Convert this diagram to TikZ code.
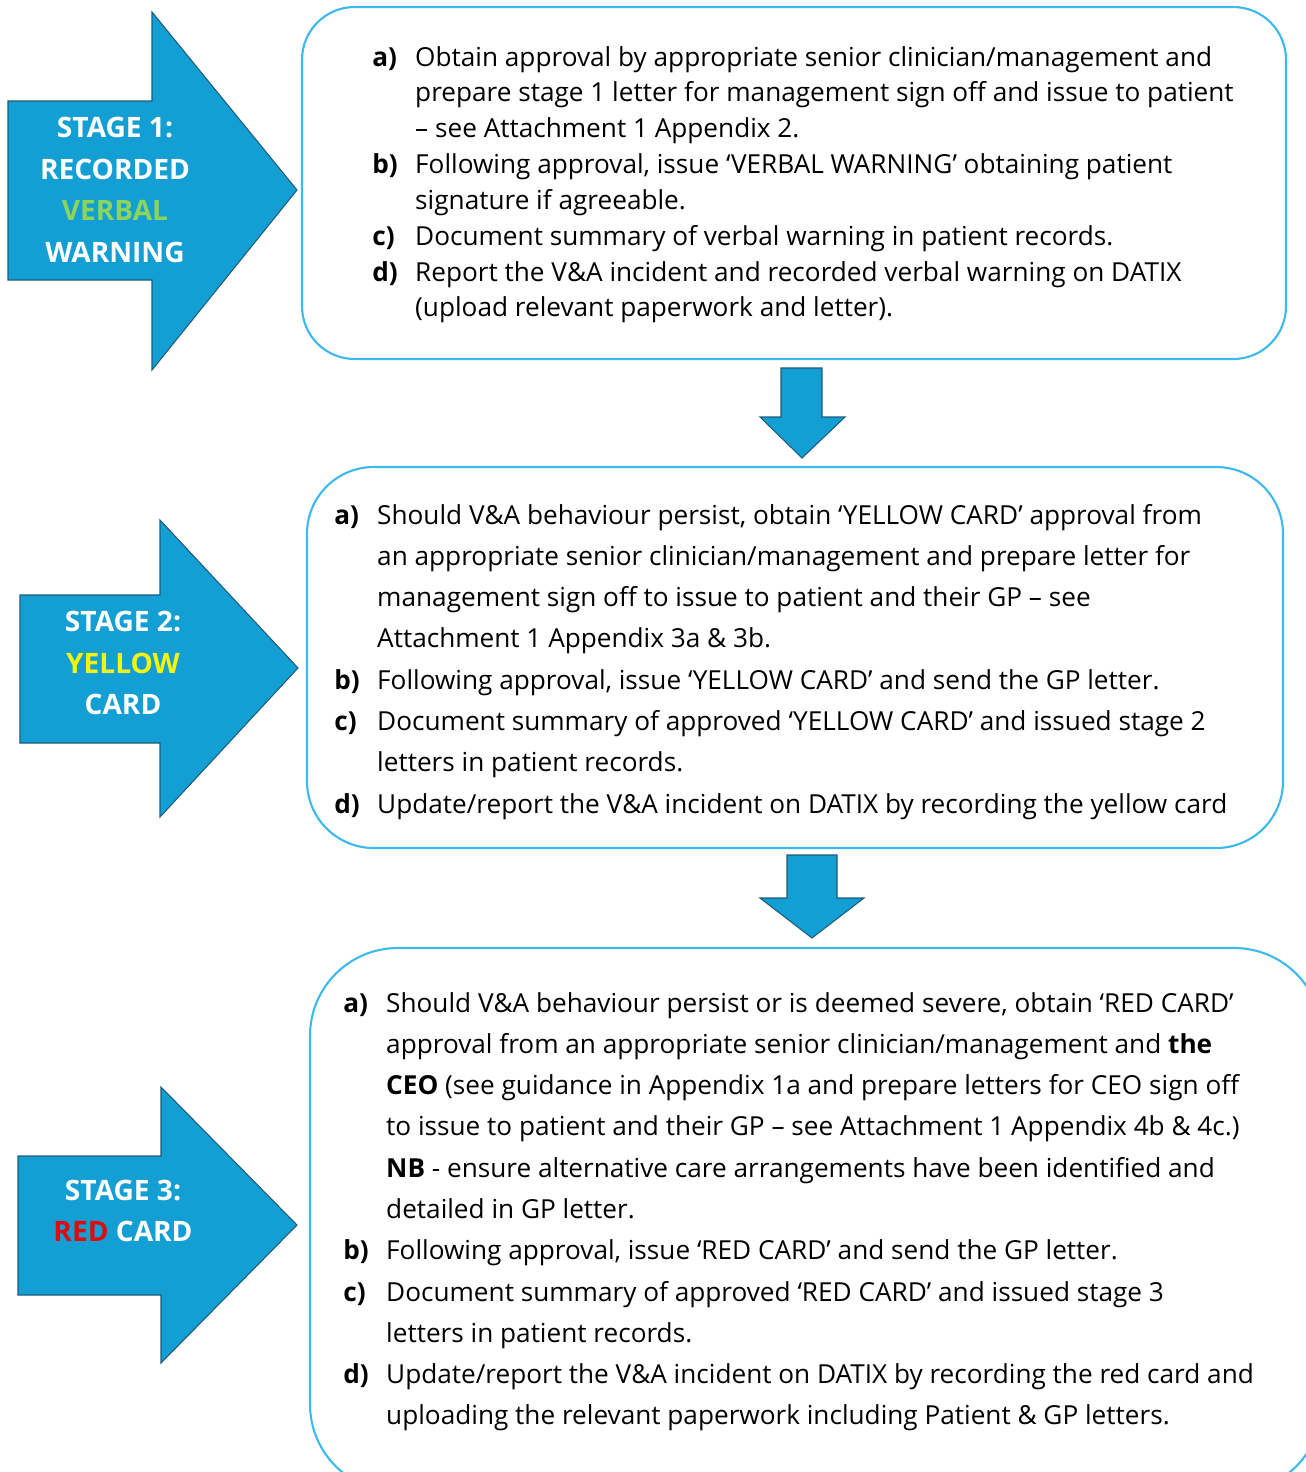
\documentclass[tikz,border=0pt]{standalone}
\usepackage{fontspec}
\setmainfont{Open Sans}
\usetikzlibrary{positioning}
\definecolor{stageblue}{HTML}{139FD4}
\definecolor{stageedge}{HTML}{1D5C7A}
\definecolor{boxline}{HTML}{3CB9EE}
\definecolor{verbalgreen}{HTML}{8BD45E}
\definecolor{cardyellow}{HTML}{F4F40C}
\definecolor{cardred}{HTML}{E00B0B}
\tikzset{
  stagearrow/.style={fill=stageblue, draw=stageedge, line width=0.6pt, line join=miter},
  stepbox/.style={draw=boxline, line width=1.2pt},
  stagetext/.style={text=white, font=\fontsize{16}{23.8}\selectfont\bfseries, align=center, inner sep=0pt},
  listtext/.style={anchor=base west, inner sep=0pt}
}
\begin{document}
\begin{tikzpicture}[x=0.02cm, y=-0.02cm]
  \useasboundingbox (0,0) rectangle (1306,1472);
  \clip (0,0) rectangle (1306,1472);

  % stage 1
  \draw[stagearrow] (8,101) -- (152,101) -- (152,12) -- (297,190) -- (152,370) -- (152,280) -- (8,280) -- cycle;
  \node[stagetext] (stage1) at (115,190) {STAGE 1:\\RECORDED\\\textcolor{verbalgreen}{VERBAL}\\WARNING};
  \draw[stepbox, rounded corners=30pt] (302,7) rectangle (1286,359);
  \node[listtext] (list1) at (372,66) {\fontsize{14.9}{20.4}\selectfont
    \begin{tabular}[t]{@{}p{24.4pt}@{}l@{}}
    \textbf{a)} & Obtain approval by appropriate senior clinician/management and\\
     & prepare stage 1 letter for management sign off and issue to patient\\
     & – see Attachment 1 Appendix 2.\\
    \textbf{b)} & Following approval, issue ‘VERBAL WARNING’ obtaining patient\\
     & signature if agreeable.\\
    \textbf{c)} & Document summary of verbal warning in patient records.\\
    \textbf{d)} & Report the V\&A incident and recorded verbal warning on DATIX\\
     & (upload relevant paperwork and letter).
    \end{tabular}};

  \draw[stagearrow] (781,368) -- (822,368) -- (822,417) -- (845,417) -- (802,458) -- (760,417) -- (781,417) -- cycle;

  % stage 2
  \draw[stagearrow] (20,595) -- (160,595) -- (160,520) -- (298,668) -- (160,817) -- (160,743) -- (20,743) -- cycle;
  \node[stagetext] (stage2) at (123,663) {STAGE 2:\\\textcolor{cardyellow}{YELLOW}\\CARD};
  \draw[stepbox, rounded corners=38pt] (307,467) rectangle (1283,848);
  \node[listtext] (list2) at (334,524) {\fontsize{14.9}{23.5}\selectfont
    \begin{tabular}[t]{@{}p{24.4pt}@{}l@{}}
    \textbf{a)} & Should V\&A behaviour persist, obtain ‘YELLOW CARD’ approval from\\
     & an appropriate senior clinician/management and prepare letter for\\
     & management sign off to issue to patient and their GP – see\\
     & Attachment 1 Appendix 3a \& 3b.\\
    \textbf{b)} & Following approval, issue ‘YELLOW CARD’ and send the GP letter.\\
    \textbf{c)} & Document summary of approved ‘YELLOW CARD’ and issued stage 2\\
     & letters in patient records.\\
    \textbf{d)} & Update/report the V\&A incident on DATIX by recording the yellow card
    \end{tabular}};

  \draw[stagearrow] (787,855) -- (837,855) -- (837,898) -- (864,898) -- (812,938) -- (760,898) -- (787,898) -- cycle;

  % stage 3
  \draw[stagearrow] (18,1156) -- (161,1156) -- (161,1087) -- (297,1225) -- (161,1363) -- (161,1295) -- (18,1295) -- cycle;
  \node[stagetext] (stage3) at (123,1211) {STAGE 3:\\\textcolor{cardred}{RED} CARD};
  \draw[stepbox, rounded corners=50pt] (310,948) rectangle (1322,1492);
  \node[listtext] (list3) at (343,1012) {\fontsize{14.9}{23.5}\selectfont
    \begin{tabular}[t]{@{}p{24.4pt}@{}l@{}}
    \textbf{a)} & Should V\&A behaviour persist or is deemed severe, obtain ‘RED CARD’\\
     & approval from an appropriate senior clinician/management and \textbf{the}\\
     & \textbf{CEO} (see guidance in Appendix 1a and prepare letters for CEO sign off\\
     & to issue to patient and their GP – see Attachment 1 Appendix 4b \& 4c.)\\
     & \textbf{NB} - ensure alternative care arrangements have been identified and\\
     & detailed in GP letter.\\
    \textbf{b)} & Following approval, issue ‘RED CARD’ and send the GP letter.\\
    \textbf{c)} & Document summary of approved ‘RED CARD’ and issued stage 3\\
     & letters in patient records.\\
    \textbf{d)} & Update/report the V\&A incident on DATIX by recording the red card and\\
     & uploading the relevant paperwork including Patient \& GP letters.
    \end{tabular}};
\end{tikzpicture}
\end{document}
